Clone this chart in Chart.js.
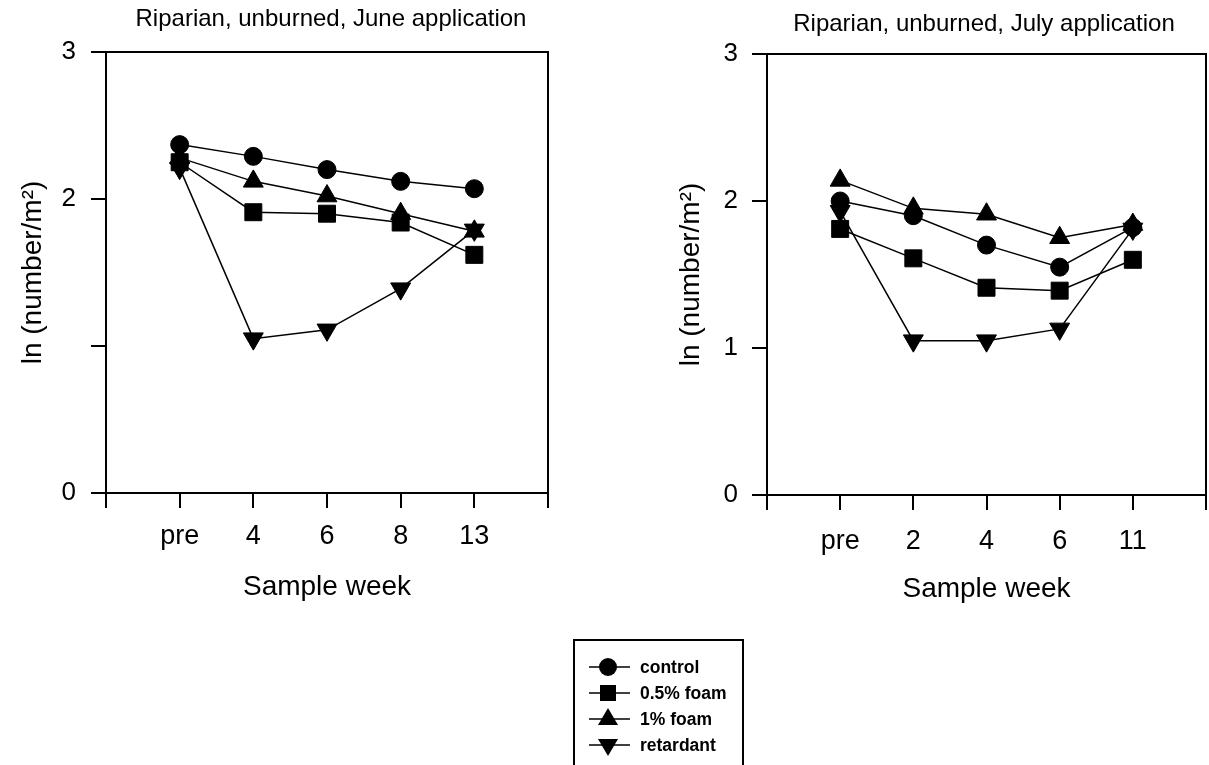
<!DOCTYPE html>
<html>
<head>
<meta charset="utf-8">
<script src="https://cdn.jsdelivr.net/npm/chart.js@4.4.0/dist/chart.umd.min.js"></script>
<style>
html, body { margin: 0; padding: 0; background: #fff; overflow: hidden; }
#wrap { position: relative; width: 1209px; height: 765px; overflow: hidden; background: #fff; }
#juneChart { position: absolute; left: 0; top: 0; }
#julyChart { position: absolute; left: 600px; top: 0; }
#legend {
    position: absolute; left: 573px; top: 639px; width: 171px; height: 140px;
    border: 2px solid #000; box-sizing: border-box; padding-top: 13px;
    font-family: 'Liberation Sans', Arial, sans-serif; font-weight: bold; font-size: 17.5px; color: #000;
}
.row { height: 26px; display: flex; align-items: center; }
.row canvas { margin-left: 12px; margin-right: 9px; }
</style>
</head>
<body>
<div id="wrap">
    <canvas id="juneChart" width="662" height="620"></canvas>
    <canvas id="julyChart" width="768" height="620"></canvas>
    <div id="legend"></div>
</div>
<script>
// sample weeks on the x axis
var juneWeeks = ['pre', '4', '6', '8', '13'];
var julyWeeks = ['pre', '2', '4', '6', '11'];

// ln(number/m2)
var juneControl = [2.37, 2.29, 2.20, 2.12, 2.07];
var juneFoam05 = [2.25, 1.91, 1.90, 1.84, 1.62];
var juneFoam1 = [2.28, 2.12, 2.02, 1.90, 1.78];
var juneRetardant = [2.21, 1.05, 1.11, 1.39, 1.79];

var julyControl = [2.00, 1.90, 1.70, 1.55, 1.82];
var julyFoam05 = [1.81, 1.61, 1.41, 1.39, 1.60];
var julyFoam1 = [2.14, 1.95, 1.91, 1.75, 1.84];
var julyRetardant = [1.93, 1.05, 1.05, 1.13, 1.81];

// y tick labels (the June panel has no "1")
var juneYTicks = ['0', '', '2', '3'];
var julyYTicks = ['0', '1', '2', '3'];

var seriesNames = ['control', '0.5% foam', '1% foam', 'retardant'];

var FONT = "'Liberation Sans', Arial, sans-serif";
var markers = [
    {style: 'circle', radius: 9, rotation: 0},
    {style: 'rect', radius: 12, rotation: 0},
    {style: 'triangle', radius: 11.5, rotation: 0},
    {style: 'triangle', radius: 11.5, rotation: 180}
];

function toPoints(vals) {
    return vals.map(function(v, i) { return {x: i + 1, y: v}; });
}

function makeChart(id, title, weeks, series, yTicks, g) {
    var datasets = series.map(function(vals, k) {
        return {
            label: seriesNames[k],
            data: toPoints(vals),
            borderColor: '#000',
            backgroundColor: '#000',
            borderWidth: 1.5,
            tension: 0,
            pointStyle: markers[k].style,
            pointRadius: markers[k].radius,
            pointHoverRadius: markers[k].radius,
            pointRotation: markers[k].rotation,
            pointBackgroundColor: '#000',
            pointBorderColor: '#000',
            pointBorderWidth: 1,
            clip: false
        };
    });
    var axisLine = {display: true, color: '#000', width: 2};
    return new Chart(document.getElementById(id), {
        type: 'line',
        data: {datasets: datasets},
        options: {
            responsive: false,
            animation: false,
            events: [],
            layout: {padding: 0},
            plugins: {
                legend: {display: false},
                tooltip: {enabled: false},
                title: {
                    display: true, text: title, color: '#000',
                    font: {family: FONT, size: 24, weight: 'normal'},
                    padding: {top: g.titleTop, bottom: g.titleBottom}
                }
            },
            scales: {
                x: {
                    type: 'linear', position: 'bottom', min: 0, max: 6,
                    afterBuildTicks: function(s) {
                        s.ticks = [0, 1, 2, 3, 4, 5, 6].map(function(v) { return {value: v}; });
                    },
                    ticks: {
                        autoSkip: false, maxRotation: 0, color: '#000', padding: g.xTickPad,
                        font: {family: FONT, size: 27},
                        callback: function(v) { return weeks[v - 1] || ''; }
                    },
                    grid: {drawOnChartArea: false, drawTicks: true, tickLength: 15, color: '#000', lineWidth: 2},
                    border: axisLine,
                    title: {
                        display: true, text: 'Sample week', color: '#000',
                        font: {family: FONT, size: 28}, padding: {top: 0, bottom: g.xTitlePad}
                    },
                    afterFit: function(s) { s.height = g.xHeight; }
                },
                x2: {
                    type: 'linear', position: 'top', min: 0, max: 6,
                    ticks: {display: false}, grid: {display: false}, border: axisLine,
                    afterFit: function(s) { s.height = 0; }
                },
                y: {
                    type: 'linear', position: 'left', min: 0, max: 3,
                    ticks: {
                        stepSize: 1, color: '#000', padding: g.yTickPad,
                        font: {family: FONT, size: 26},
                        callback: function(v) { return yTicks[v]; }
                    },
                    grid: {drawOnChartArea: false, drawTicks: true, tickLength: 15, color: '#000', lineWidth: 2},
                    border: axisLine,
                    title: {
                        display: true, text: 'ln (number/m²)', color: '#000',
                        font: {family: FONT, size: 28}, padding: {top: g.yTitlePad, bottom: 0}
                    },
                    afterFit: function(s) { s.width = g.yWidth; }
                },
                y2: {
                    type: 'linear', position: 'right', min: 0, max: 3,
                    ticks: {display: false}, grid: {display: false}, border: axisLine,
                    afterFit: function(s) { s.width = g.rightWidth; }
                }
            }
        }
    });
}

makeChart('juneChart', 'Riparian, unburned, June application', juneWeeks,
    [juneControl, juneFoam05, juneFoam1, juneRetardant], juneYTicks,
    {titleTop: 4.6, titleBottom: 18.6, yWidth: 106, rightWidth: 114, xHeight: 127,
     yTitlePad: 16.2, xTitlePad: 16.2, xTickPad: 12.8, yTickPad: 15});

makeChart('julyChart', 'Riparian, unburned, July application', julyWeeks,
    [julyControl, julyFoam05, julyFoam1, julyRetardant], julyYTicks,
    {titleTop: 9.6, titleBottom: 15.6, yWidth: 167, rightWidth: 162, xHeight: 125,
     yTitlePad: 74.2, xTitlePad: 14.2, xTickPad: 15.8, yTickPad: 14});

// legend box, symbols drawn with a line through them
function drawSymbol(cv, k) {
    var ctx = cv.getContext('2d');
    var w = cv.width, cy = cv.height / 2, cx = 21;
    ctx.strokeStyle = '#000';
    ctx.lineWidth = 1.5;
    ctx.beginPath();
    ctx.moveTo(2, cy);
    ctx.lineTo(w - 1, cy);
    ctx.stroke();
    ctx.fillStyle = '#000';
    ctx.beginPath();
    if (k === 0) {
        ctx.arc(cx, cy, 9, 0, Math.PI * 2);
    } else if (k === 1) {
        ctx.rect(cx - 8, cy - 8, 16, 16);
    } else if (k === 2) {
        ctx.moveTo(cx, cy - 11);
        ctx.lineTo(cx + 10, cy + 6);
        ctx.lineTo(cx - 10, cy + 6);
    } else {
        ctx.moveTo(cx, cy + 11);
        ctx.lineTo(cx + 10, cy - 6);
        ctx.lineTo(cx - 10, cy - 6);
    }
    ctx.closePath();
    ctx.fill();
}

var legend = document.getElementById('legend');
seriesNames.forEach(function(name, k) {
    var row = document.createElement('div');
    row.className = 'row';
    var cv = document.createElement('canvas');
    cv.width = 44;
    cv.height = 26;
    drawSymbol(cv, k);
    var span = document.createElement('span');
    span.textContent = name;
    row.appendChild(cv);
    row.appendChild(span);
    legend.appendChild(row);
});
</script>
</body>
</html>
